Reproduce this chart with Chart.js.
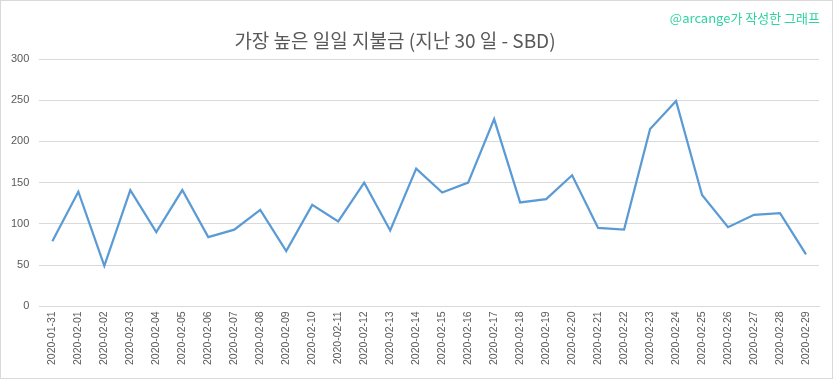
<!DOCTYPE html>
<html>
<head>
<meta charset="utf-8">
<script src="https://cdn.jsdelivr.net/npm/chart.js"></script>
<style>
  html, body { margin: 0; padding: 0; background: #fff; }
  #wrap {
    width: 833px; height: 379px; box-sizing: border-box;
    border: 1px solid #d9d9d9; background: #fff;
  }
  canvas { display: block; }
</style>
</head>
<body>
<div id="wrap"><canvas id="payoutChart" width="831" height="377"></canvas></div>
<script>
const dates = [
  '2020-01-31', '2020-02-01', '2020-02-02', '2020-02-03', '2020-02-04', '2020-02-05',
  '2020-02-06', '2020-02-07', '2020-02-08', '2020-02-09', '2020-02-10', '2020-02-11',
  '2020-02-12', '2020-02-13', '2020-02-14', '2020-02-15', '2020-02-16', '2020-02-17',
  '2020-02-18', '2020-02-19', '2020-02-20', '2020-02-21', '2020-02-22', '2020-02-23',
  '2020-02-24', '2020-02-25', '2020-02-26', '2020-02-27', '2020-02-28', '2020-02-29'
];
const payouts = [
  79, 139, 49, 141, 90, 141,
  84, 93, 117, 67, 123, 103,
  150, 92, 167, 138, 150, 227,
  126, 130, 159, 95, 93, 215,
  249, 135, 96, 111, 113, 63
];
const yTicks = [0, 50, 100, 150, 200, 250, 300];

const titleText = '가장 높은 일일 지불금 (지난 30 일 - SBD)';
const creditText = '@arcange가 작성한 그래프';

// title and the small credit line, drawn by hand so they sit where Excel put them
const headerPlugin = {
  id: 'header',
  afterDraw(chart) {
    const ctx = chart.ctx;
    ctx.save();
    ctx.textBaseline = 'middle';

    ctx.font = '19px "Noto Sans CJK KR", sans-serif';
    ctx.fillStyle = '#595959';
    ctx.textAlign = 'center';
    ctx.fillText(titleText, 394, 40);

    ctx.font = '13px "Noto Sans CJK KR", "Open Sans", sans-serif';
    ctx.fillStyle = '#2fd3a0';
    ctx.textAlign = 'right';
    ctx.fillText(creditText, 819, 17);
    ctx.restore();
  }
};

new Chart(document.getElementById('payoutChart').getContext('2d'), {
  type: 'line',
  data: {
    labels: dates,
    datasets: [{
      label: 'SBD',
      data: payouts,
      borderColor: '#5b9bd5',
      borderWidth: 2.25,
      pointRadius: 0,
      tension: 0,
      fill: false
    }]
  },
  options: {
    responsive: false,
    animation: false,
    layout: { padding: { left: 0, right: 13, top: 58, bottom: 8 } },
    plugins: {
      legend: { display: false },
      tooltip: { enabled: false },
      title: { display: false }
    },
    scales: {
      x: {
        offset: true,
        grid: { display: false, drawTicks: false },
        border: { display: true, color: '#d9d9d9', width: 1 },
        ticks: {
          color: '#595959',
          font: { family: '"Liberation Sans", sans-serif', size: 10.5 },
          minRotation: 90,
          maxRotation: 90,
          autoSkip: false,
          padding: 5
        }
      },
      y: {
        min: 0,
        max: 300,
        afterBuildTicks(axis) { axis.ticks = yTicks.map(v => ({ value: v })); },
        grid: { color: '#d9d9d9', drawTicks: false },
        border: { display: false },
        ticks: {
          color: '#595959',
          font: { family: '"Liberation Sans", sans-serif', size: 11 },
          padding: 10
        }
      }
    }
  },
  plugins: [headerPlugin]
});
</script>
</body>
</html>
